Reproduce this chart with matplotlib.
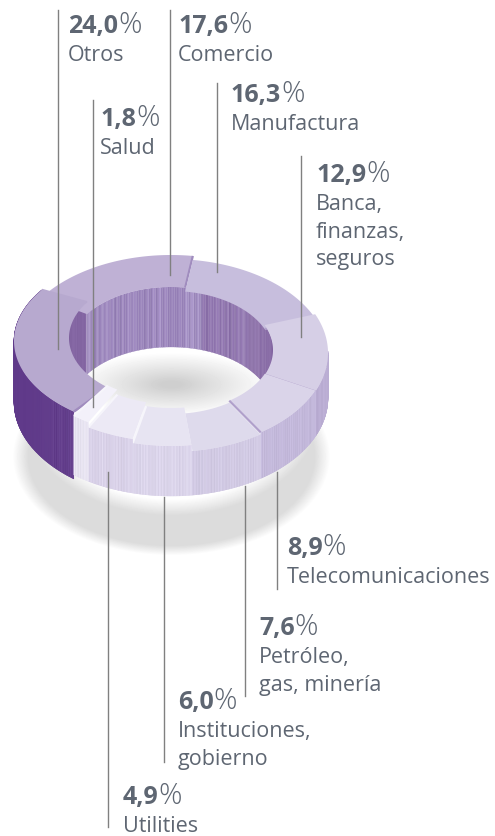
import numpy as np
import matplotlib
matplotlib.use("Agg")
import matplotlib.pyplot as plt
from matplotlib.patches import Polygon
from matplotlib.colors import to_rgb

plt.rcParams['font.family'] = ['Open Sans', 'DejaVu Sans']

# clockwise, starting at the Comercio / Manufactura seam
names = ["Manufactura", "Banca,\nfinanzas,\nseguros", "Telecomunicaciones",
         "Petróleo,\ngas, minería", "Instituciones,\ngobierno", "Utilities",
         "Salud", "Otros", "Comercio"]
values = [16.3, 12.9, 8.9, 7.6, 6.0, 4.9, 1.8, 24.0, 17.6]
shares = ["16,3", "12,9", "8,9", "7,6", "6,0", "4,9", "1,8", "24,0", "17,6"]

top_colors = ["#C7BEDD", "#D6CFE6", "#DAD4E9", "#DEDAEC", "#E7E4F2", "#ECE9F5",
              "#F3F1FA", "#B7A9CF", "#BFB1D5"]
wall_colors = ["#C3B8DB", "#BDB0D6", "#C3B8DB", "#D0C8E3", "#DAD3EA", "#D8D0E8",
               "#E7E3F1", "#603A8A", "#9C86BC"]
seam_colors = ["#B0A0CB", "#B0A0CB", "#B0A0CB", "#F3F1FA", "#F6F5FB", "#F6F5FB",
               "#F6F5FB", "#B7A9CF", "#A08CBE"]
slice_cy = [358, 354, 353, 355, 349, 345, 340, 342, 354]
slice_ry = [98, 98, 98, 98, 98, 98, 98, 90, 98]

# label x, share baseline, leader x, leader top, leader bottom
text_x = [231, 316, 287, 259, 178, 123, 100, 68, 178]
text_y = [102, 182, 555, 635, 709, 804, 126, 33, 33]
line_x = [217, 300.5, 277, 245, 164, 108, 93, 58, 170]
line_y0 = [84, 157, 473, 487, 498, 473, 101, 11, 11]
line_y1 = [273, 338, 590, 697, 763, 828, 408, 350, 276]

cx, rx = 171, 157
in_rx, in_ry = 102, 63
bot_cy, bot_ry = 399, 98
start = 82.0

fig = plt.figure(figsize=(4.95, 8.37), dpi=100)
ax = fig.add_axes([0, 0, 1, 1])


def soft(x, y, x0, y0, a, b, w):
    r = np.sqrt(((x - x0) / a) ** 2 + ((y - y0) / b) ** 2)
    return np.clip((1 - r) / w, 0, 1)


# soft grey shadow under the ring
gx, gy = np.meshgrid(np.arange(0, 360), np.arange(340, 580))
s = 0.14 * soft(gx, gy, 171, 457, 159, 99, 0.1)
s = s * (1 - soft(gx, gy, 171, 412, 148, 104, 0.16))
s = s + 0.19 * soft(gx, gy, 171, 385, 100, 32, 0.9)
ax.imshow(1 - s, cmap="gray", vmin=0, vmax=1, extent=(0, 360, 580, 340),
          zorder=1, aspect="auto", interpolation="bilinear")
ax.set_xlim(0, 495)
ax.set_ylim(837, 0)
ax.axis("off")


def stripes(base, k, amount):
    # thin vertical streaks on the walls
    c = np.array(to_rgb(base))
    f = amount * (np.sin(k * 1.7) + 0.6 * np.sin(k * 4.3 + 1) + 0.4 * np.sin(k * 0.37))
    return tuple(np.clip(c + f, 0, 1))


def inner_shade(deg):
    if deg < 40:
        return "#8466A3"
    if deg < 72:
        return "#8E73AD"
    if deg < 82:
        return "#A08CC0"
    if deg < 145:
        return "#9A84BB"
    return "#8466A3"


# inner wall, far side of the hole
wall_a = np.radians(np.linspace(-25, 200, 230))
for i in range(len(wall_a) - 1):
    a0, a1 = wall_a[i], wall_a[i + 1]
    deg = np.degrees([a0, a1])
    xs = cx + in_rx * np.cos([a0, a1])
    top = 351 - in_ry * np.sin([a0, a1])
    top = np.where(deg > 140, 300, top)
    bot = 411 - in_ry * np.sin([a0, a1])
    bot = np.where(deg < 23, 386, bot)
    bot = np.where(deg > 145, 375, bot)
    amt = 0.012 if deg[0] < 40 or deg[0] > 145 else 0.03
    col = stripes(inner_shade(deg[0]), i, amt)
    ax.add_patch(Polygon([(xs[0], top[0]), (xs[1], top[1]), (xs[1], bot[1]), (xs[0], bot[0])],
                         closed=True, fc=col, ec=col, lw=0.2, zorder=2))

# slice angles come from the values
edges = start - np.cumsum([0] + values) * 3.6

# outer wall and top face of every slice, back to front
order = [8, 0, 1, 7, 2, 3, 4, 5, 6]
for n, i in enumerate(order):
    a = np.radians(np.linspace(edges[i], edges[i + 1], 80))
    cy = slice_cy[i]
    ry = slice_ry[i]
    seg = np.radians(np.linspace(edges[i], edges[i + 1], max(int(values[i] * 12), 20)))
    for j in range(len(seg) - 1):
        a0, a1 = seg[j], seg[j + 1]
        if np.sin(a0) > 0.02 and np.sin(a1) > 0.02 and i != 7:
            continue
        if i == 7 and np.cos(a0) > -0.55 and j > 5:
            continue
        xs = cx + rx * np.cos([a0, a1])
        t = cy - ry * np.sin([a0, a1])
        b = bot_cy + (4 if i == 7 else 0) - bot_ry * np.sin([a0, a1])
        if i == 7:
            amt = 0.03 if j < 36 else 0.002
        else:
            amt = 0.02
        col = stripes(wall_colors[i], j, amt)
        ax.add_patch(Polygon([(xs[0], t[0]), (xs[1], t[1]), (xs[1], b[1]), (xs[0], b[0])],
                             closed=True, fc=col, ec=col, lw=0.3, zorder=3 + n))
    # top face
    ox = cx + rx * np.cos(a)
    oy = cy - ry * np.sin(a)
    ix = cx + in_rx * np.cos(a[::-1])
    iy = cy - 3 - in_ry * np.sin(a[::-1])
    pts = np.column_stack([np.r_[ox, ix], np.r_[oy, iy]])
    ax.add_patch(Polygon(pts, closed=True, fc=top_colors[i], ec="none", zorder=3.5 + n))
    # seam at the clockwise end of the slice
    ax.plot([ox[-1], ix[0]], [oy[-1], iy[0]], color=seam_colors[i], lw=1.6, zorder=3.6 + n,
            solid_capstyle="butt")
    if i == 7:
        ax.plot([ox[0], ix[-1]], [oy[0], iy[-1]], color="#A08CBE", lw=1.8, zorder=3.6 + n,
                solid_capstyle="butt")

# leaders and labels
ink = "#5E6672"
renderer = fig.canvas.get_renderer()
for i in range(len(values)):
    ax.plot([line_x[i], line_x[i]], [line_y0[i], line_y1[i]], color="#808080", lw=1.0, zorder=30)
    t = ax.text(text_x[i], text_y[i], shares[i], fontsize=18, fontweight="bold", color=ink,
                va="baseline", ha="left", zorder=31)
    right = ax.transData.inverted().transform(t.get_window_extent(renderer).corners()[-1])[0]
    ax.text(right, text_y[i], "%", fontsize=21, fontweight="light", color=ink,
            va="baseline", ha="left", zorder=31)
    for k, part in enumerate(names[i].split("\n")):
        ax.text(text_x[i], text_y[i] + 28 + 27.5 * k, part, fontsize=15.5, color=ink,
                va="baseline", ha="left", zorder=31)

fig.savefig("out.png", dpi=100)
